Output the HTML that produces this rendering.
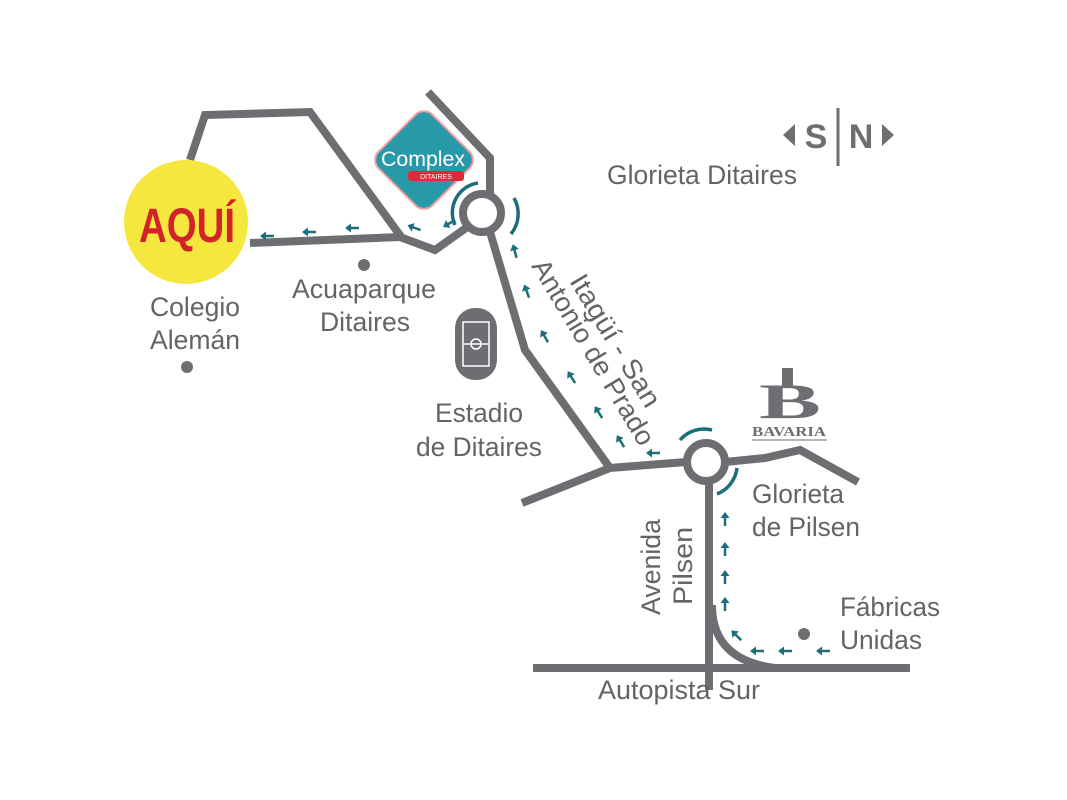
<!DOCTYPE html>
<html><head><meta charset="utf-8"><style>
html,body{margin:0;padding:0;background:#fff;}
svg{display:block}
text{font-family:"Liberation Sans",sans-serif;fill:#636466}
</style></head><body>
<svg width="1067" height="800" viewBox="0 0 1067 800" xmlns="http://www.w3.org/2000/svg">
<defs>
<g id="ar"><line x1="6" y1="0" x2="-4" y2="0" stroke="#1d6e7a" stroke-width="2.5"/><path d="M-8,0 L-2,-4.5 L-2,4.5z" fill="#1d6e7a"/></g>
</defs>
<g fill="none" stroke="#6d6e71" stroke-width="8" stroke-linejoin="miter">
<polyline points="190,160 205,115 310,112 402,238"/>
<polyline points="250,243 400,237 435,250 466,228"/>
<polyline points="428,92 490,158 490,195"/>
<circle cx="482" cy="213" r="19"/>
<polyline points="490,232 525,350 610,468"/>
<polyline points="522,503 610,468 686,462"/>
<circle cx="706" cy="462" r="19"/>
<polyline points="725,462 765,458 800,450 858,482"/>
<line x1="709" y1="481" x2="709" y2="690"/>
<path d="M712,605 Q712,660 775,668"/>
<line x1="533" y1="668" x2="910" y2="668"/>
</g>
<g fill="none" stroke="#1d6e7a" stroke-width="3.5">
<path d="M455,225 A30,30 0 0 1 478,183"/>
<path d="M514,198 A32,32 0 0 1 511,234"/>
<path d="M680,440 A32,32 0 0 1 712,430"/>
<path d="M737,468 A32,32 0 0 1 717,494"/>
</g>
<g>
<use href="#ar" transform="translate(268,236)"/>
<use href="#ar" transform="translate(310,232)"/>
<use href="#ar" transform="translate(353,228)"/>
<use href="#ar" transform="translate(415,228) rotate(20)"/>
<use href="#ar" transform="translate(450,223) rotate(-30)"/>
<use href="#ar" transform="translate(515,252) rotate(75)"/>
<use href="#ar" transform="translate(527,292) rotate(70)"/>
<use href="#ar" transform="translate(545,337) rotate(60)"/>
<use href="#ar" transform="translate(572,378) rotate(58)"/>
<use href="#ar" transform="translate(599,413) rotate(58)"/>
<use href="#ar" transform="translate(621,442) rotate(58)"/>
<use href="#ar" transform="translate(654,453)"/>
<use href="#ar" transform="translate(725,520) rotate(90)"/>
<use href="#ar" transform="translate(725,550) rotate(90)"/>
<use href="#ar" transform="translate(725,578) rotate(90)"/>
<use href="#ar" transform="translate(725,605) rotate(90)"/>
<use href="#ar" transform="translate(737,636) rotate(45)"/>
<use href="#ar" transform="translate(758,651)"/>
<use href="#ar" transform="translate(786,651)"/>
<use href="#ar" transform="translate(824,651)"/>
</g>
<circle cx="186" cy="222" r="62" fill="#f6e73e"/>
<text x="187" y="242" text-anchor="middle" font-size="48" font-weight="bold" style="fill:#d2232a" textLength="96" lengthAdjust="spacingAndGlyphs">AQUÍ</text>
<g transform="translate(424,160) rotate(45)">
<rect x="-38" y="-38" width="76" height="76" rx="12" fill="#2899a8" stroke="#f0a0a0" stroke-width="2"/>
</g>
<text x="381" y="166" font-size="21" style="fill:#fff" textLength="84" lengthAdjust="spacingAndGlyphs">Complex</text>
<rect x="408" y="171" width="56" height="10" rx="3" fill="#e2273a"/>
<text x="436" y="179" font-size="7" text-anchor="middle" style="fill:#fff">DITAIRES</text>
<circle cx="364" cy="265" r="6" fill="#6d6e71"/>
<circle cx="187" cy="367" r="6" fill="#6d6e71"/>
<circle cx="804" cy="634" r="6" fill="#6d6e71"/>
<rect x="455" y="308" width="42" height="72" rx="20" fill="#6d6e71"/>
<rect x="463" y="322" width="26" height="44" fill="none" stroke="#fff" stroke-width="1.5"/>
<line x1="463" y1="344" x2="489" y2="344" stroke="#fff" stroke-width="1.5"/>
<circle cx="476" cy="344" r="5" fill="none" stroke="#fff" stroke-width="1.5"/>
<text x="790" y="418" font-size="50" font-weight="bold" text-anchor="middle" style="fill:#6d6e71;font-family:'Liberation Serif',serif" textLength="62" lengthAdjust="spacingAndGlyphs">B</text>
<rect x="782" y="368" width="11" height="18" fill="#6d6e71"/>
<text x="789" y="436" font-size="14" font-weight="bold" text-anchor="middle" style="fill:#6d6e71;font-family:'Liberation Serif',serif" textLength="74" lengthAdjust="spacingAndGlyphs">BAVARIA</text>
<line x1="752" y1="440" x2="827" y2="440" stroke="#6d6e71" stroke-width="1"/>
<path d="M783,135 L795,124 L795,146z" fill="#6d6e71"/>
<path d="M894,135 L882,124 L882,146z" fill="#6d6e71"/>
<line x1="838" y1="108" x2="838" y2="166" stroke="#6d6e71" stroke-width="3"/>
<text x="816" y="148" font-size="34" font-weight="bold" text-anchor="middle" style="fill:#6d6e71">S</text>
<text x="861" y="148" font-size="34" font-weight="bold" text-anchor="middle" style="fill:#6d6e71">N</text>
<g font-size="27">
<text x="607" y="184" textLength="190" lengthAdjust="spacingAndGlyphs">Glorieta Ditaires</text>
<text x="292" y="298" textLength="144" lengthAdjust="spacingAndGlyphs">Acuaparque</text>
<text x="320" y="331" textLength="90" lengthAdjust="spacingAndGlyphs">Ditaires</text>
<text x="150" y="316" textLength="90" lengthAdjust="spacingAndGlyphs">Colegio</text>
<text x="150" y="349" textLength="90" lengthAdjust="spacingAndGlyphs">Alemán</text>
<text x="435" y="422" textLength="88" lengthAdjust="spacingAndGlyphs">Estadio</text>
<text x="416" y="456" textLength="126" lengthAdjust="spacingAndGlyphs">de Ditaires</text>
<text x="752" y="503" textLength="92" lengthAdjust="spacingAndGlyphs">Glorieta</text>
<text x="752" y="536" textLength="108" lengthAdjust="spacingAndGlyphs">de Pilsen</text>
<text x="840" y="616" textLength="100" lengthAdjust="spacingAndGlyphs">Fábricas</text>
<text x="840" y="649" textLength="82" lengthAdjust="spacingAndGlyphs">Unidas</text>
<text x="598" y="699" textLength="162" lengthAdjust="spacingAndGlyphs">Autopista Sur</text>
<text transform="translate(569,281) rotate(59)" textLength="150" lengthAdjust="spacingAndGlyphs">Itagüí - San</text>
<text transform="translate(531,266) rotate(59)" textLength="212" lengthAdjust="spacingAndGlyphs">Antonio de Prado</text>
<text transform="translate(660,615) rotate(-90)" textLength="96" lengthAdjust="spacingAndGlyphs">Avenida</text>
<text transform="translate(692,605) rotate(-90)" textLength="78" lengthAdjust="spacingAndGlyphs">Pilsen</text>
</g>
</svg>
</body></html>
